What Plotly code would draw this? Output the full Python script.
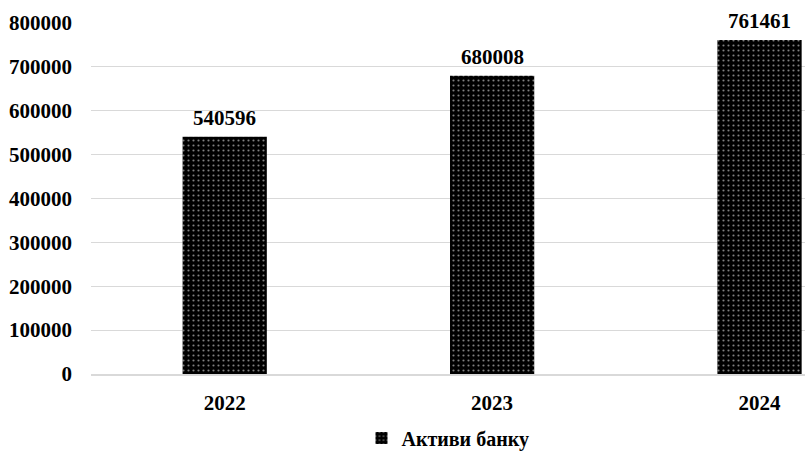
import plotly.graph_objects as go

categories = ["2022", "2023", "2024"]
values = [540596, 680008, 761461]
series_name = "Активи банку"
y_ticks = [0, 100000, 200000, 300000, 400000, 500000, 600000, 700000, 800000]

FONT = "Liberation Serif"

fig = go.Figure()
fig.add_trace(go.Bar(
    x=categories,
    y=values,
    name=f"<b>{series_name}</b>",
    width=0.315,
    marker=dict(
        color="black",
        line=dict(width=0),
        pattern=dict(shape=".", fgcolor="white", bgcolor="black", size=5, solidity=0.15),
    ),
    showlegend=True,
))

for i, v in enumerate(values):
    fig.add_annotation(
        x=i, y=v, xref="x", yref="y", text=f"<b>{v}</b>", showarrow=False,
        yanchor="bottom", yshift=5,
        font=dict(family=FONT, size=21, color="black"),
    )

fig.update_layout(
    width=805, height=454,
    margin=dict(l=91, r=0, t=23, b=80, autoexpand=False),
    paper_bgcolor="white",
    plot_bgcolor="white",
    font=dict(family=FONT, size=21, color="black"),
    showlegend=True,
    legend=dict(
        orientation="h",
        x=0.5, xanchor="center",
        yref="container", y=0.035, yanchor="middle",
        font=dict(family=FONT, size=20, color="black"),
        itemwidth=30,
    ),
    xaxis=dict(
        type="category",
        range=[-0.5, 2.17],
        showgrid=False,
        showline=True, linecolor="#d9d9d9", linewidth=1.5,
        ticks="",
        tickvals=categories,
        ticktext=[f"<b>{c}</b>" for c in categories],
        tickfont=dict(family=FONT, size=21, color="black"),
        ticklabelstandoff=9,
    ),
    yaxis=dict(
        range=[0, 800000],
        tickvals=y_ticks,
        ticktext=[f"<b>{v}</b>" for v in y_ticks],
        showgrid=True, gridcolor="#d9d9d9", gridwidth=1,
        zeroline=False,
        showline=False,
        ticks="",
        tickfont=dict(family=FONT, size=21, color="black"),
        ticklabelstandoff=18,
    ),
)

fig.write_html("out.html")
